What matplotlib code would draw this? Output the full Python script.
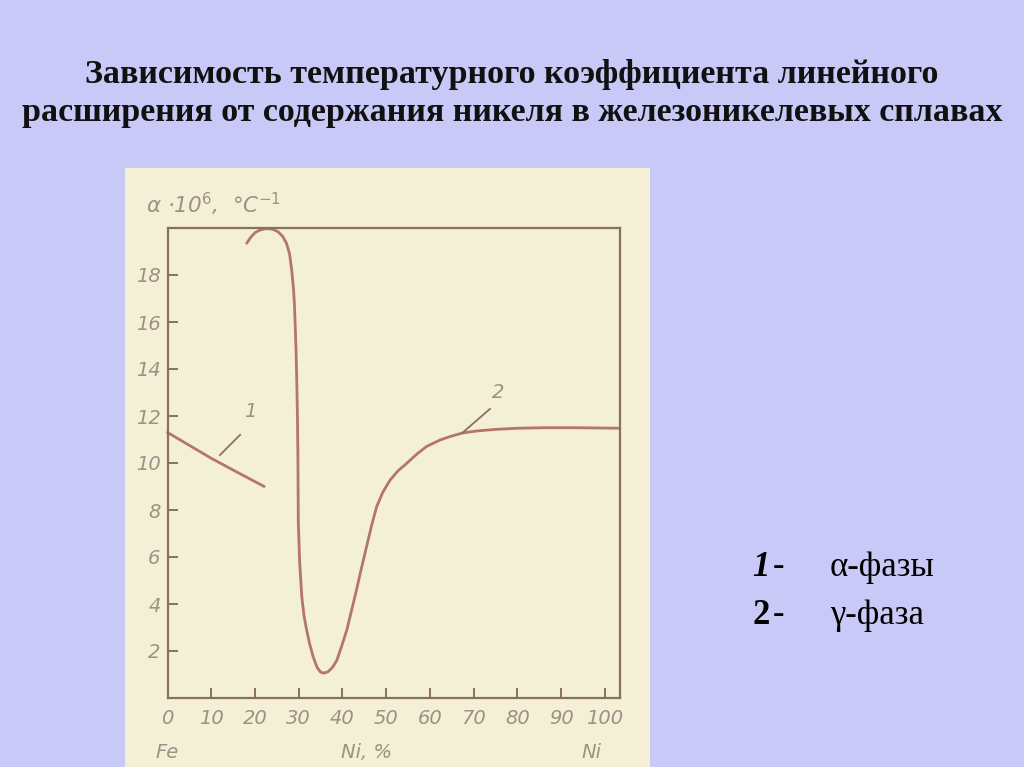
import matplotlib
matplotlib.use("Agg")
import matplotlib.pyplot as plt
import matplotlib.patches as mpatches

# curve 1: alpha phase
ni_alpha = [0.0, 5.0, 10.0, 15.0, 22.1]
a_alpha = [11.3, 10.75, 10.2, 9.7, 9.0]

# curve 2: gamma phase
ni_gamma = [18.1, 19.0, 20.0, 21.2, 22.5, 24.0, 25.2, 26.3, 27.2, 27.9, 28.4,
            28.8, 29.0, 29.2, 29.4, 29.6, 29.7, 29.8, 29.85, 29.9, 30.2, 30.7,
            31.2, 31.8, 32.5, 33.3, 34.2, 35.0, 35.8, 36.7, 37.7, 38.7, 39.8,
            41.0, 42.1, 43.2, 44.3, 45.5, 46.6, 47.8, 49.2, 50.9, 52.7, 54.7,
            57.0, 59.2, 62.3, 65.0, 67.5, 71.0, 75.0, 80.0, 86.0, 94.0, 103.4]
a_gamma = [19.35, 19.6, 19.8, 19.92, 19.97, 19.95, 19.85, 19.65, 19.35, 18.9, 18.2,
           17.4, 16.8, 15.8, 14.7, 13.0, 12.0, 10.5, 9.0, 7.5, 5.8, 4.3,
           3.5, 2.9, 2.3, 1.75, 1.3, 1.1, 1.06, 1.12, 1.3, 1.6, 2.2,
           2.9, 3.75, 4.6, 5.5, 6.44, 7.3, 8.14, 8.75, 9.28, 9.67, 9.99,
           10.38, 10.7, 10.98, 11.15, 11.28, 11.37, 11.43, 11.48, 11.5, 11.5, 11.48]

x_ticks = [0, 10, 20, 30, 40, 50, 60, 70, 80, 90, 100]
y_ticks = [2, 4, 6, 8, 10, 12, 14, 16, 18]

title_1 = "Зависимость температурного коэффициента линейного"
title_2 = "расширения от содержания никеля в железоникелевых сплавах"

lav = "#c9c9f7"
cream = "#f4f0d6"
ink = "#8c6e62"
curve = "#b47666"
label_col = "#a08f86"

fig = plt.figure(figsize=(10.24, 7.67), dpi=100)
fig.patch.set_facecolor(lav)

# the scanned sheet behind the chart
sheet = mpatches.Rectangle((125 / 1024, 0), 525 / 1024, (767 - 168) / 767,
                           transform=fig.transFigure, facecolor=cream,
                           edgecolor="none", zorder=-5)
fig.patches.append(sheet)

for txt, ypix in [(title_1, 75), (title_2, 112)]:
    fig.text(0.5, 1 - ypix / 767, txt, ha="center", va="center",
             family="Liberation Serif", weight="bold", fontsize=24.5,
             color="#111111")

ax = fig.add_axes([167.5 / 1024, 69 / 767, 452.8 / 1024, 470 / 767])
ax.set_facecolor(cream)
ax.set_xlim(0, 103.5)
ax.set_ylim(0, 20)

ax.plot(ni_alpha, a_alpha, color=curve, lw=2.0, solid_capstyle="round", clip_on=False)
ax.plot(ni_gamma, a_gamma, color=curve, lw=2.0, solid_capstyle="round",
        solid_joinstyle="round", clip_on=False)

for s in ax.spines.values():
    s.set_color(ink)
    s.set_linewidth(1.6)

ax.set_xticks(x_ticks)
ax.set_yticks(y_ticks)
ax.set_xticklabels([str(v) for v in x_ticks])
ax.set_yticklabels([str(v) for v in y_ticks])
ax.tick_params(direction="in", color=ink, width=1.4, length=7,
               labelcolor=label_col, labelsize=14)
ax.tick_params(axis="y", pad=5)
ax.tick_params(axis="x", pad=8)
for t in ax.get_xticklabels() + ax.get_yticklabels():
    t.set_style("italic")
    t.set_family("DejaVu Sans")

# leader lines and curve numbers
ax.plot([12.0, 16.6], [10.34, 11.2], color=ink, lw=1.3)
ax.text(18.9, 12.2, "1", color=label_col, fontsize=14, style="italic",
        ha="center", va="center")
ax.plot([67.5, 73.7], [11.3, 12.3], color=ink, lw=1.3)
ax.text(75.5, 13.0, "2", color=label_col, fontsize=14, style="italic",
        ha="center", va="center")

ax.text(-5.0, 21.0, "α ·10$^6$,  °C$^{-1}$", color=label_col, fontsize=15.5,
        style="italic", ha="left", va="center", clip_on=False)

ax.text(0, -2.3, "Fe", color=label_col, fontsize=14, style="italic",
        ha="center", va="center", clip_on=False)
ax.text(45.6, -2.3, "Ni, %", color=label_col, fontsize=14, style="italic",
        ha="center", va="center", clip_on=False)
ax.text(97.0, -2.3, "Ni", color=label_col, fontsize=14, style="italic",
        ha="center", va="center", clip_on=False)

# key on the right
fs = 25
fig.text(752 / 1024, 1 - 567 / 767, "1", family="Liberation Serif",
         weight="bold", style="italic", fontsize=fs, ha="left", va="center")
fig.text(773 / 1024, 1 - 567 / 767, "-", family="Liberation Serif",
         fontsize=fs, ha="left", va="center")
fig.text(830 / 1024, 1 - 567 / 767, "α-фазы", family="Liberation Serif",
         fontsize=fs, ha="left", va="center")
fig.text(752 / 1024, 1 - 615 / 767, "2", family="Liberation Serif",
         weight="bold", fontsize=fs, ha="left", va="center")
fig.text(773 / 1024, 1 - 615 / 767, "-", family="Liberation Serif",
         fontsize=fs, ha="left", va="center")
fig.text(830 / 1024, 1 - 615 / 767, "γ-фаза", family="Liberation Serif",
         fontsize=fs, ha="left", va="center")

fig.savefig("out.png", dpi=100, facecolor=fig.get_facecolor())
